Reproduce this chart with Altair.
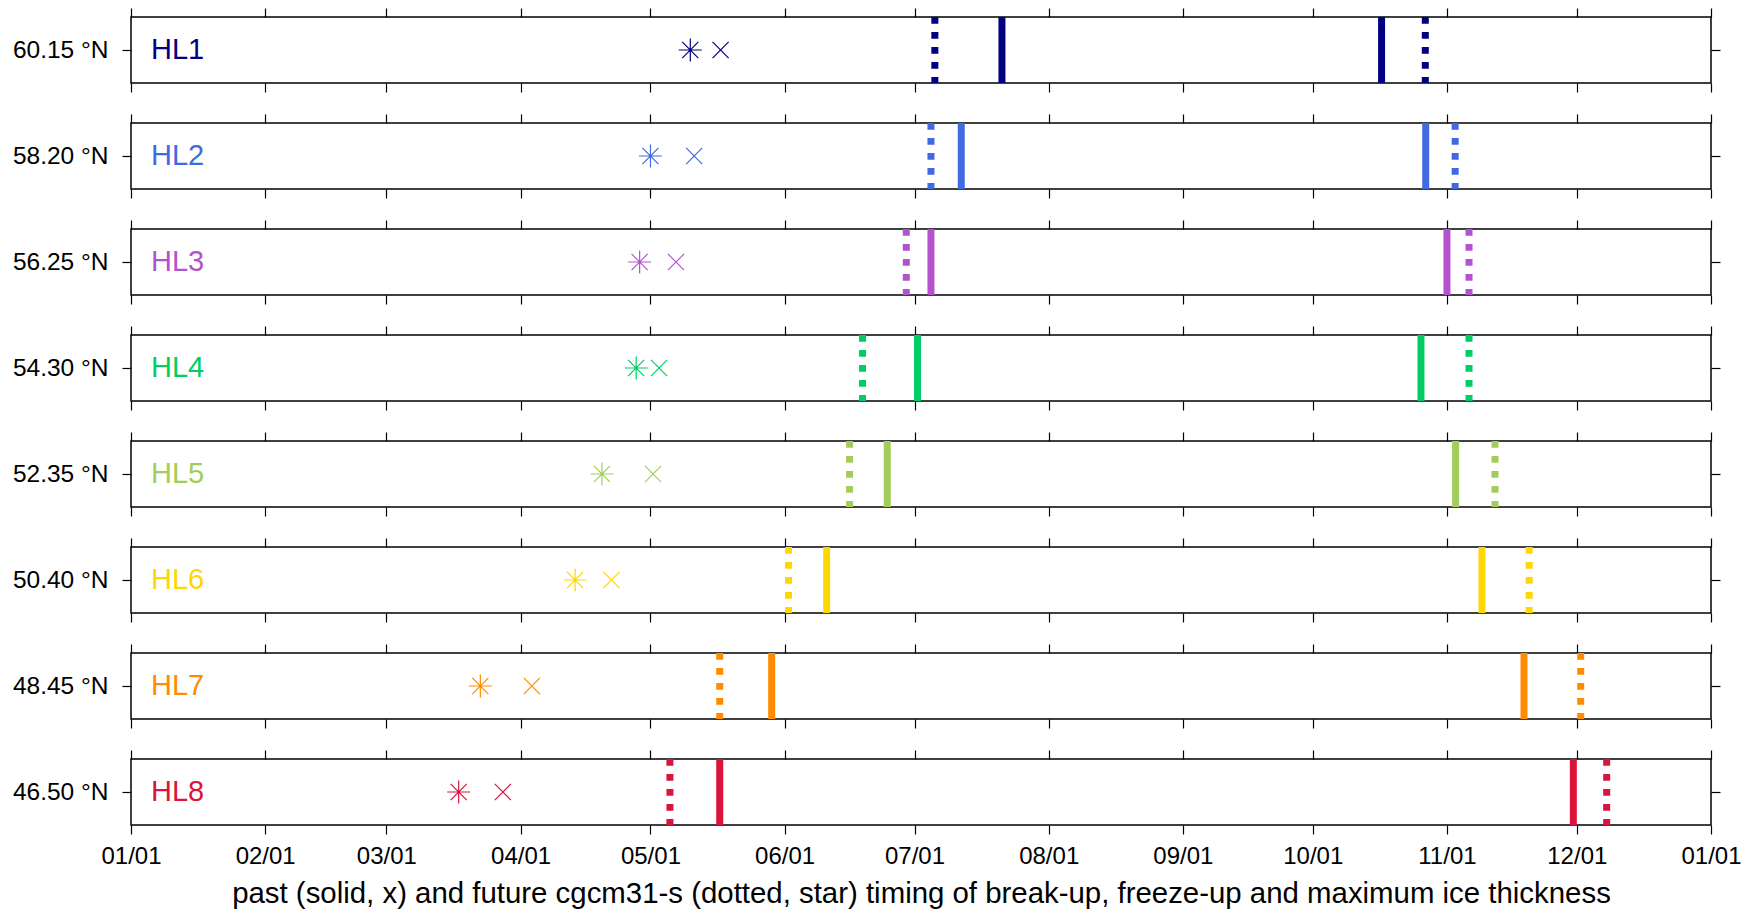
import json

import altair as alt
import pandas as pd

# Stations along the transect, their latitude labels and colours
stations = ["HL1", "HL2", "HL3", "HL4", "HL5", "HL6", "HL7", "HL8"]
latitudes = ["60.15 °N", "58.20 °N", "56.25 °N", "54.30 °N",
             "52.35 °N", "50.40 °N", "48.45 °N", "46.50 °N"]
colors = ["#000080", "#4169E1", "#B452CD", "#00CD66",
          "#A2CD5A", "#FFD700", "#FF8C00", "#DC143C"]

# Timing as day of year (0 = 01/01)
past_breakup = [201.2, 191.8, 184.8, 181.7, 174.7, 160.7, 148.0, 136.0]
past_freezeup = [288.9, 299.1, 304.0, 298.0, 306.0, 312.1, 321.8, 333.2]
past_max_ice = [136.2, 130.1, 125.9, 122.0, 120.6, 111.0, 92.6, 85.9]
future_breakup = [185.7, 184.8, 179.1, 169.0, 166.0, 151.9, 136.0, 124.5]
future_freezeup = [299.0, 305.9, 309.1, 309.1, 315.1, 323.0, 334.9, 340.9]
future_max_ice = [129.2, 120.0, 117.5, 116.7, 108.8, 102.6, 80.7, 75.7]

# Month ticks
tick_days = [0, 31, 59, 90, 120, 151, 181, 212, 243, 273, 304, 334, 365]
tick_labels = ["01/01", "02/01", "03/01", "04/01", "05/01", "06/01", "07/01",
               "08/01", "09/01", "10/01", "11/01", "12/01", "01/01"]

x_title = ("past (solid, x) and future cgcm31-s (dotted, star) timing of "
           "break-up, freeze-up and maximum ice thickness")

FONT = "Liberation Sans"
W, H = 1580, 66
TICK = 9
LINE_W = 7

STAR = "M-1,0L1,0M0,-1L0,1M-0.7,-0.7L0.7,0.7M-0.7,0.7L0.7,-0.7"
CROSS = "M-0.7,-0.7L0.7,0.7M-0.7,0.7L0.7,-0.7"

label_expr = (f"{json.dumps(tick_labels)}"
              f"[indexof({json.dumps(tick_days)}, datum.value)]")

rows = []
for i, st in enumerate(stations):
    for kind, day in (("past", past_breakup[i]), ("past", past_freezeup[i]),
                      ("future", future_breakup[i]), ("future", future_freezeup[i])):
        rows.append({"station": st, "kind": kind, "mark": "line", "day": day})
    rows.append({"station": st, "kind": "past", "mark": "max", "day": past_max_ice[i]})
    rows.append({"station": st, "kind": "future", "mark": "max", "day": future_max_ice[i]})
df = pd.DataFrame(rows)
df["top"] = 1.0
df["bottom"] = 0.0
df["mid"] = 0.5


def panel(i):
    last = i == len(stations) - 1
    st = stations[i]
    xscale = alt.Scale(domain=[0, 365], nice=False, zero=False)
    yscale = alt.Scale(domain=[0, 1], nice=False, zero=False)
    col = alt.value(colors[i])

    bottom_axis = alt.Axis(orient="bottom", values=tick_days, labelExpr=label_expr,
                           labels=last, labelFlush=False, labelOverlap=False,
                           tickSize=TICK, labelPadding=10, titlePadding=11)
    top_axis = alt.Axis(orient="top", values=tick_days, labels=False, tickSize=TICK)
    left_axis = alt.Axis(orient="left", values=[0.5], labelExpr=f"'{latitudes[i]}'",
                         tickSize=TICK, labelPadding=14, labelFontSize=24.5)
    right_axis = alt.Axis(orient="right", values=[0.5], labels=False, tickSize=TICK)

    base = alt.Chart(df).transform_filter(alt.datum.station == st)

    if last:
        xb = alt.X("day:Q", scale=xscale, axis=bottom_axis, title=x_title)
    else:
        xb = alt.X("day:Q", scale=xscale, axis=bottom_axis, title=None)

    solid = base.transform_filter(
        (alt.datum.mark == "line") & (alt.datum.kind == "past")
    ).mark_rule(strokeWidth=LINE_W, strokeCap="butt").encode(
        x=xb,
        y=alt.Y("top:Q", scale=yscale, axis=left_axis, title=None),
        y2="bottom:Q",
        color=col,
    )

    dotted = base.transform_filter(
        (alt.datum.mark == "line") & (alt.datum.kind == "future")
    ).mark_rule(strokeWidth=LINE_W, strokeCap="butt", strokeDash=[6.7, 8.3]).encode(
        x=alt.X("day:Q", scale=xscale, axis=top_axis, title=None),
        y=alt.Y("top:Q", scale=yscale, axis=right_axis, title=None),
        y2="bottom:Q",
        color=col,
    )

    stars = base.transform_filter(
        (alt.datum.mark == "max") & (alt.datum.kind == "future")
    ).mark_point(shape=STAR, size=529, filled=False, strokeWidth=1.2, opacity=1).encode(
        x=alt.X("day:Q", scale=xscale, axis=None),
        y=alt.Y("mid:Q", scale=yscale, axis=None),
        color=col,
    )

    crosses = base.transform_filter(
        (alt.datum.mark == "max") & (alt.datum.kind == "past")
    ).mark_point(shape=CROSS, size=529, filled=False, strokeWidth=1.2, opacity=1).encode(
        x=alt.X("day:Q", scale=xscale, axis=None),
        y=alt.Y("mid:Q", scale=yscale, axis=None),
        color=col,
    )

    name = alt.Chart(pd.DataFrame({"station": [st], "mid": [0.5]})).mark_text(
        align="left", baseline="middle", font=FONT, fontSize=29
    ).encode(
        x=alt.value(20),
        y=alt.Y("mid:Q", scale=yscale, axis=None),
        text="station:N",
        color=col,
    )

    return alt.layer(solid, dotted, stars, crosses, name).resolve_axis(
        x="independent", y="independent"
    ).properties(width=W, height=H)


chart = alt.vconcat(*[panel(i) for i in range(len(stations))], spacing=18).properties(
    padding={"left": 11, "top": 6, "right": 5, "bottom": 5},
    background="white",
).configure_view(
    stroke="black", strokeWidth=1.5
).configure_axis(
    grid=False, domain=False, tickColor="black", tickWidth=1.2,
    labelColor="black", labelFont=FONT, labelFontSize=24,
    titleColor="black", titleFont=FONT, titleFontSize=29.4, titleFontWeight="normal",
)

chart.save("out.html", embed_options={"renderer": "svg", "actions": False})
